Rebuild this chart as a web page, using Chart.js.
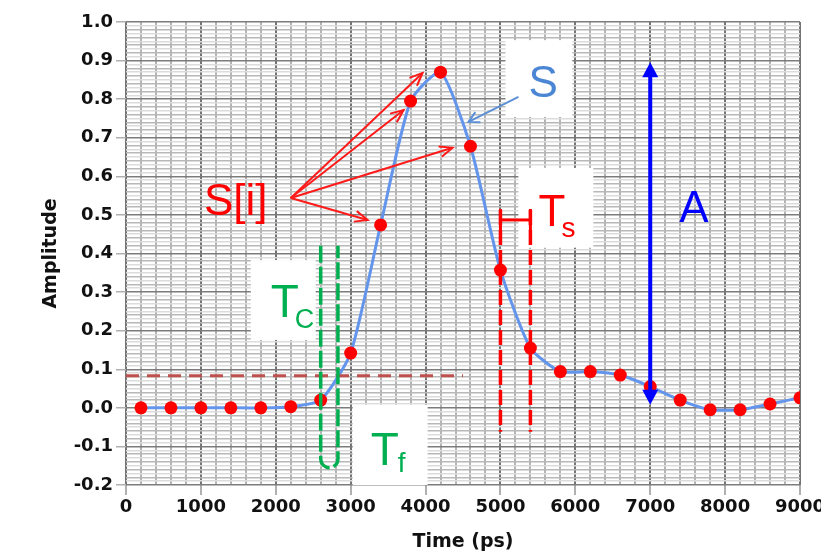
<!DOCTYPE html>
<html>
<head>
<meta charset="utf-8">
<script src="https://cdn.jsdelivr.net/npm/chart.js@4.4.0/dist/chart.umd.min.js"></script>
<style>
  html, body { margin: 0; padding: 0; background: #fff; }
  #chart { display: block; }
</style>
</head>
<body>
<canvas id="chart" width="821" height="554"></canvas>
<script>
// sample times (ps) and sampled amplitude S[i]
const timePs = [200, 600, 1000, 1400, 1800, 2200, 2600, 3000, 3400, 3800, 4200, 4600,
                5000, 5400, 5800, 6200, 6600, 7000, 7400, 7800, 8200, 8600, 9000];
const amplitude = [0.0, 0.0, 0.0, 0.0, 0.0, 0.003, 0.02, 0.142, 0.474, 0.795, 0.87, 0.678,
                   0.357, 0.155, 0.094, 0.094, 0.085, 0.055, 0.02, -0.005, -0.005, 0.01, 0.026];

// labelled ticks
const xTicks = [0, 1000, 2000, 3000, 4000, 5000, 6000, 7000, 8000, 9000];
const yTicks = [-0.2, -0.1, 0.0, 0.1, 0.2, 0.3, 0.4, 0.5, 0.6, 0.7, 0.8, 0.9, 1.0];

// annotation positions, in data units (time, amplitude)
const labelBoxes = [
    [5067, 5960, 0.953, 0.754],   // S
    [5240, 6240, 0.622, 0.415],   // Ts
    [1667, 2533, 0.383, 0.176],   // Tc
    [3027, 4027, 0.008, -0.2]     // Tf
];
const thresholdLevel = 0.083;
const thresholdEnd = 4500;
const tcLines = [2600, 2830];
const tsLines = [5000, 5400];
const sArrowFrom = [2200, 0.544];
const sArrowTo = [[3960, 0.868], [3707, 0.772], [4360, 0.674], [3227, 0.487]];

const isTick = (list, v) => list.some(t => Math.abs(t - v) < 1e-6);

function toPx(chart, x, y) {
    return [chart.scales.x.getPixelForValue(x), chart.scales.y.getPixelForValue(y)];
}

function openHead(ctx, x1, y1, x2, y2, len, spread) {
    const a = Math.atan2(y2 - y1, x2 - x1);
    ctx.beginPath();
    ctx.moveTo(x2 - len * Math.cos(a - spread), y2 - len * Math.sin(a - spread));
    ctx.lineTo(x2, y2);
    ctx.lineTo(x2 - len * Math.cos(a + spread), y2 - len * Math.sin(a + spread));
    ctx.stroke();
}

function solidHead(ctx, x2, y2, dir, len, half) {
    ctx.beginPath();
    ctx.moveTo(x2, y2);
    ctx.lineTo(x2 - half, y2 - dir * len);
    ctx.lineTo(x2 + half, y2 - dir * len);
    ctx.closePath();
    ctx.fill();
}

function label(ctx, text, sub, x, y, color, size, subSize, subDx, subDy) {
    ctx.fillStyle = color;
    ctx.textAlign = 'left';
    ctx.textBaseline = 'alphabetic';
    ctx.font = size + 'px "Liberation Sans", Arial, sans-serif';
    ctx.fillText(text, x, y);
    if (sub) {
        ctx.font = subSize + 'px "Liberation Sans", Arial, sans-serif';
        ctx.fillText(sub, x + subDx, y + subDy);
    }
}

// white boxes behind the labels
const boxPlugin = {
    id: 'boxes',
    beforeDatasetsDraw(chart) {
        const ctx = chart.ctx;
        ctx.save();
        ctx.fillStyle = '#ffffff';
        labelBoxes.forEach(b => {
            const [x1, y1] = toPx(chart, b[0], b[2]);
            const [x2, y2] = toPx(chart, b[1], b[3]);
            ctx.fillRect(x1, y1, x2 - x1, y2 - y1);
        });
        ctx.restore();
    }
};

// dashed markers, arrows and texts
const notePlugin = {
    id: 'notes',
    afterDatasetsDraw(chart) {
        const ctx = chart.ctx;
        ctx.save();

        // threshold line
        let [ax, ay] = toPx(chart, 0, thresholdLevel);
        let [bx] = toPx(chart, thresholdEnd, thresholdLevel);
        ctx.strokeStyle = '#c0504d';
        ctx.lineWidth = 3;
        ctx.setLineDash([13, 8]);
        ctx.beginPath(); ctx.moveTo(ax, ay); ctx.lineTo(bx, ay); ctx.stroke();

        // Ts dashed lines
        ctx.strokeStyle = '#ff0000';
        ctx.lineWidth = 3.5;
        ctx.setLineDash([15, 5]);
        tsLines.forEach(t => {
            const [x1, y1] = toPx(chart, t, 0.513);
            const [, y2] = toPx(chart, t, -0.062);
            ctx.beginPath(); ctx.moveTo(x1, y1); ctx.lineTo(x1, y2); ctx.stroke();
        });
        ctx.setLineDash([]);
        {
            const [x1, y1] = toPx(chart, tsLines[0], 0.487);
            const [x2] = toPx(chart, tsLines[1], 0.487);
            ctx.lineWidth = 3;
            ctx.beginPath(); ctx.moveTo(x1, y1); ctx.lineTo(x2, y1); ctx.stroke();
            ctx.beginPath();
            ctx.moveTo(x1, y1 - 11); ctx.lineTo(x1, y1 + 11);
            ctx.moveTo(x2, y1 - 11); ctx.lineTo(x2, y1 + 11);
            ctx.stroke();
        }

        // Tc U-shaped dashed marker
        {
            const [xl, yt] = toPx(chart, tcLines[0], 0.42);
            const [xr, yb] = toPx(chart, tcLines[1], -0.155);
            const r = (xr - xl) / 2;
            ctx.strokeStyle = '#00b050';
            ctx.lineWidth = 3.5;
            ctx.setLineDash([17, 4]);
            ctx.beginPath();
            ctx.moveTo(xl, yt);
            ctx.lineTo(xl, yb - r);
            ctx.arc(xl + r, yb - r, r, Math.PI, 0, true);
            ctx.lineTo(xr, yt);
            ctx.stroke();
            ctx.setLineDash([]);
        }

        // S[i] arrows
        ctx.strokeStyle = '#ff1a1a';
        ctx.lineWidth = 2;
        const [ox, oy] = toPx(chart, sArrowFrom[0], sArrowFrom[1]);
        sArrowTo.forEach(p => {
            const [tx, ty] = toPx(chart, p[0], p[1]);
            ctx.beginPath(); ctx.moveTo(ox, oy); ctx.lineTo(tx, ty); ctx.stroke();
            openHead(ctx, ox, oy, tx, ty, 14, 0.4);
        });

        // S arrow
        {
            const [x1, y1] = toPx(chart, 5240, 0.806);
            const [x2, y2] = toPx(chart, 4573, 0.741);
            ctx.strokeStyle = '#5b8fd6';
            ctx.lineWidth = 2;
            ctx.beginPath(); ctx.moveTo(x1, y1); ctx.lineTo(x2, y2); ctx.stroke();
            openHead(ctx, x1, y1, x2, y2, 12, 0.5);
        }

        // amplitude arrow A
        {
            const [x, yTop] = toPx(chart, 7000, 0.896);
            const [, yBot] = toPx(chart, 7000, 0.008);
            ctx.strokeStyle = '#0000ff';
            ctx.fillStyle = '#0000ff';
            ctx.lineWidth = 4;
            ctx.beginPath(); ctx.moveTo(x, yTop + 8); ctx.lineTo(x, yBot - 8); ctx.stroke();
            solidHead(ctx, x, yTop, -1, 15, 8);
            solidHead(ctx, x, yBot, 1, 15, 8);
        }

        // texts
        let p;
        p = toPx(chart, 1040, 0.5);   label(ctx, 'S[i]', null, p[0], p[1], '#ff0000', 44);
        p = toPx(chart, 5373, 0.806); label(ctx, 'S', null, p[0], p[1], '#4a86d4', 44);
        p = toPx(chart, 7387, 0.482); label(ctx, 'A', null, p[0], p[1], '#0000ff', 44);
        p = toPx(chart, 1933, 0.236); label(ctx, 'T', 'C', p[0], p[1], '#00b050', 46, 27, 24, 11);
        p = toPx(chart, 3267, -0.148); label(ctx, 'T', 'f', p[0], p[1], '#00b050', 46, 28, 27, 7);
        p = toPx(chart, 5507, 0.471); label(ctx, 'T', 's', p[0], p[1], '#ff0000', 44, 28, 23, 11);

        ctx.restore();
    }
};

const tickFont = { family: '"DejaVu Sans", Verdana, sans-serif', size: 18, weight: 'bold' };
const titleFont = { family: '"DejaVu Sans", Verdana, sans-serif', size: 19, weight: 'bold' };

new Chart(document.getElementById('chart'), {
    type: 'line',
    data: {
        datasets: [{
            data: timePs.map((t, i) => ({ x: t, y: amplitude[i] })),
            borderColor: '#6495ed',
            borderWidth: 3,
            tension: 0.2,
            pointRadius: 6.5,
            pointBackgroundColor: '#ff0000',
            pointBorderColor: '#ff0000',
            pointBorderWidth: 0,
            fill: false
        }]
    },
    options: {
        responsive: false,
        animation: false,
        devicePixelRatio: 1,
        layout: { padding: { left: 0, right: 21, top: 22, bottom: 0 } },
        plugins: {
            legend: { display: false },
            tooltip: { enabled: false }
        },
        scales: {
            x: {
                type: 'linear',
                min: 0,
                max: 9000,
                afterFit(scale) {
                    scale.height = 69;
                    scale.paddingLeft = 0;
                    scale.paddingRight = 0;
                },
                ticks: {
                    stepSize: 200,
                    autoSkip: false,
                    maxTicksLimit: 1000,
                    maxRotation: 0,
                    padding: 2,
                    color: '#111',
                    font: tickFont,
                    callback: v => isTick(xTicks, v) ? String(Math.round(v)) : ''
                },
                grid: {
                    color: c => isTick(xTicks, c.tick.value) ? '#747474' : '#b4b4b4',
                    lineWidth: 2,
                    tickLength: 10,
                    tickColor: c => isTick(xTicks, c.tick.value) ? '#b0b0b0' : 'rgba(0,0,0,0)'
                },
                border: { display: false },
                title: {
                    display: true,
                    text: 'Time (ps)',
                    color: '#111',
                    font: titleFont,
                    padding: { top: 0, bottom: 1 }
                }
            },
            y: {
                min: -0.2,
                max: 1.0,
                afterFit(scale) {
                    scale.width = 126;
                    scale.paddingTop = 0;
                    scale.paddingBottom = 0;
                },
                ticks: {
                    stepSize: 0.01,
                    autoSkip: false,
                    maxTicksLimit: 1000,
                    padding: 3,
                    color: '#111',
                    font: tickFont,
                    callback: v => isTick(yTicks, v) ? (Math.abs(v) < 1e-9 ? '0.0' : v.toFixed(1)) : ''
                },
                grid: {
                    color: c => {
                        const k = Math.round(c.tick.value * 100);
                        if (k % 10 === 0) return '#7c7c7c';
                        return k % 2 === 0 ? '#b8b8b8' : '#dcdcdc';
                    },
                    lineWidth: 1.5,
                    tickLength: 10,
                    tickColor: c => isTick(yTicks, c.tick.value) ? '#b0b0b0' : 'rgba(0,0,0,0)'
                },
                border: { display: false },
                title: {
                    display: true,
                    text: 'Amplitude',
                    color: '#111',
                    font: titleFont,
                    padding: { top: 40, bottom: 0 }
                }
            }
        }
    },
    plugins: [boxPlugin, notePlugin]
});
</script>
</body>
</html>
